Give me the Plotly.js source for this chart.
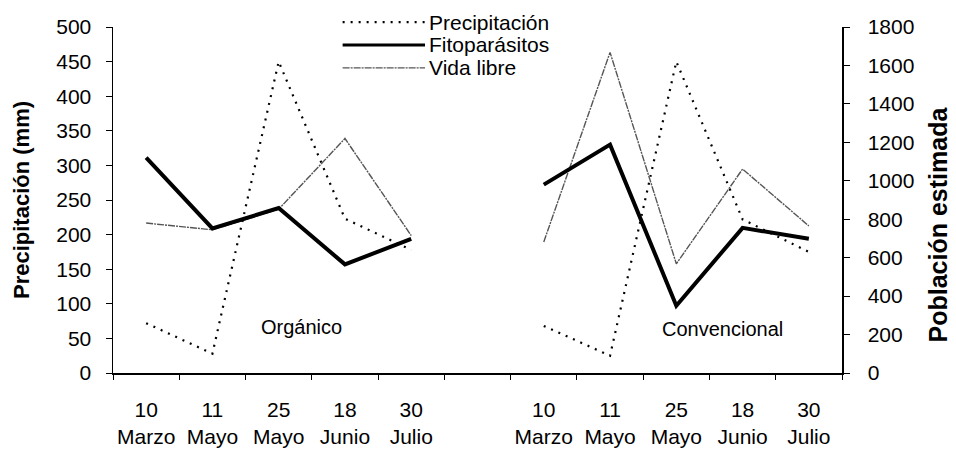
<!DOCTYPE html>
<html>
<head>
<meta charset="utf-8">
<script src="https://cdn.plot.ly/plotly-3.0.1.min.js"></script>
<style>html,body{margin:0;padding:0;background:#fff;}#chart{width:956px;height:459px;}</style>
</head>
<body>
<div id="chart"></div>
<script>
// Categories (sampling dates) for each system
const fechas = ['10<br>Marzo', '11<br>Mayo', '25<br>Mayo', '18<br>Junio', '30<br>Julio'];
const sistemas = ['Orgánico', 'Convencional'];
// Category slot positions on the shared x axis (organic slots 0-4, gap, conventional slots 6-10)
const posOrg = [0.5, 1.5, 2.5, 3.5, 4.5];
const posConv = [6.5, 7.5, 8.5, 9.5, 10.5];

// Precipitación (mm) - left axis
const precipOrg = [72, 28, 450, 223, 178];
const precipConv = [68, 25, 450, 222, 175];
// Fitoparásitos (población estimada) - right axis
const fitoOrg = [1120, 752, 858, 565, 698];
const fitoConv = [980, 1188, 350, 755, 698];
// Vida libre (población estimada) - right axis
const vidaOrg = [780, 745, 852, 1220, 715];
const vidaConv = [682, 1668, 568, 1061, 765];

const serieNombres = ['Precipitación', 'Fitoparásitos', 'Vida libre'];
const tituloIzq = 'Precipitación (mm)';
const tituloDer = 'Población estimada';

const FONT = 'Liberation Sans, Arial, sans-serif';
const estilos = [
  {color: '#000', width: 2.2, dash: '2px,6px'},
  {color: '#000', width: 4, dash: 'solid'},
  {color: '#555', width: 1.4, dash: '7px,1px,2px,1px'}
];

function xy(xa, xb, ya, yb) {
  return {x: xa.concat([null], xb), y: ya.concat([null], yb)};
}

const traces = [
  Object.assign({type: 'scatter', mode: 'lines', name: serieNombres[0], yaxis: 'y', line: estilos[0], connectgaps: false}, xy(posOrg, posConv, precipOrg, precipConv)),
  Object.assign({type: 'scatter', mode: 'lines', name: serieNombres[2], yaxis: 'y2', line: estilos[2], connectgaps: false}, xy(posOrg, posConv, vidaOrg, vidaConv)),
  Object.assign({type: 'scatter', mode: 'lines', name: serieNombres[1], yaxis: 'y2', line: estilos[1], connectgaps: false}, xy(posOrg, posConv, fitoOrg, fitoConv))
];

// Legend drawn manually (long line samples like the original)
const legY = [1.014, 0.948, 0.882];
const shapes = [];
const annotations = [];
serieNombres.forEach((n, i) => {
  shapes.push({type: 'line', xref: 'paper', yref: 'paper', x0: 0.315, x1: 0.428, y0: legY[i], y1: legY[i],
    line: {color: estilos[i].color, width: i === 1 ? 3 : estilos[i].width, dash: estilos[i].dash}});
  annotations.push({xref: 'paper', yref: 'paper', x: 0.432, y: legY[i], xanchor: 'left', yanchor: 'middle',
    text: n, showarrow: false, font: {family: FONT, size: 21, color: '#000'}, borderpad: 0});
});
annotations.push({xref: 'x', yref: 'y', x: 2.85, y: 66, text: sistemas[0], showarrow: false,
  font: {family: FONT, size: 20, color: '#000'}});
annotations.push({xref: 'x', yref: 'y', x: 9.2, y: 64, text: sistemas[1], showarrow: false,
  font: {family: FONT, size: 20, color: '#000'}});
// Right-axis title
annotations.push({xref: 'paper', yref: 'paper', x: 1.132, y: 0.43, xanchor: 'center', yanchor: 'middle',
  textangle: -90, text: tituloDer, showarrow: false, borderpad: 0,
  font: {family: FONT, size: 25, color: '#000', weight: 'bold'}});

const ticksX = posOrg.concat(posConv);
const ticksTxt = fechas.concat(fechas);

const layout = {
  width: 956, height: 459,
  margin: {l: 113, r: 114, t: 27, b: 86},
  paper_bgcolor: '#fff', plot_bgcolor: '#fff',
  showlegend: false,
  font: {family: FONT, color: '#000'},
  xaxis: {
    range: [0, 11], showgrid: false, zeroline: false, showline: true, linecolor: '#000', linewidth: 1.5,
    tickmode: 'array', tickvals: ticksX, ticktext: ticksTxt, ticks: '',
    tickfont: {family: FONT, size: 21, color: '#000'}, ticklabelstandoff: 17,
    minor: {tickmode: 'array', tickvals: [0,1,2,3,4,5,6,7,8,9,10,11], ticks: 'outside', ticklen: 5, tickcolor: '#000', tickwidth: 1, showgrid: false}
  },
  yaxis: {
    range: [0, 500], dtick: 50, showgrid: false, zeroline: false, showline: true, linecolor: '#000', linewidth: 1.5,
    ticks: 'outside', ticklen: 6, tickcolor: '#000', tickwidth: 1,
    tickfont: {family: FONT, size: 21, color: '#000'}, ticklabelstandoff: 10,
    title: {text: tituloIzq, font: {family: FONT, size: 22, color: '#000', weight: 'bold'}, standoff: 20}
  },
  yaxis2: {
    range: [0, 1800], dtick: 200, overlaying: 'y', side: 'right', showgrid: false, zeroline: false,
    showline: true, linecolor: '#000', linewidth: 1.5,
    ticks: 'outside', ticklen: 6, tickcolor: '#000', tickwidth: 1,
    tickfont: {family: FONT, size: 21, color: '#000'}, ticklabelstandoff: 14
  },
  shapes: shapes,
  annotations: annotations
};

Plotly.newPlot('chart', traces, layout, {displayModeBar: false, staticPlot: true});
</script>
</body>
</html>
